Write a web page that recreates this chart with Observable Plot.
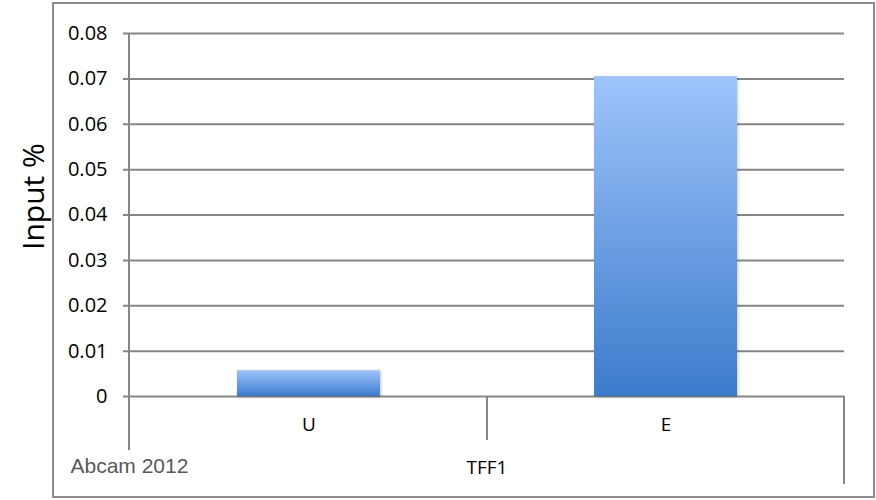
<!DOCTYPE html>
<html>
<head>
<meta charset="utf-8">
<script src="https://cdn.jsdelivr.net/npm/d3@7"></script>
<script src="https://cdn.jsdelivr.net/npm/@observablehq/plot@0.6"></script>
<style>
  html, body { margin: 0; padding: 0; background: #fff; }
  #wrap { position: relative; width: 876px; height: 500px; }
  #frame { position: absolute; left: 52px; top: 2px; width: 819px; height: 492px; border: 2px solid #8c8c8c; pointer-events: none; }
  #wrap svg { position: absolute; left: 0; top: 0; }
  g[aria-label="bar"] rect { filter: drop-shadow(1px 1px 1.5px rgba(0,0,0,0.22)); }
</style>
</head>
<body>
<div id="wrap"><div id="frame"></div></div>
<script>
const categories = ["U", "E"];
const values = [0.0057, 0.0705];
const yTicks = [0, 0.01, 0.02, 0.03, 0.04, 0.05, 0.06, 0.07, 0.08];
const groupLabel = "TFF1";
const yLabel = "Input %";
const credit = "Abcam 2012";

const data = categories.map((c, i) => ({category: c, value: values[i]}));

const ns = "http://www.w3.org/2000/svg";
function el(name, attrs) {
  const e = document.createElementNS(ns, name);
  for (const k in attrs) e.setAttribute(k, attrs[k]);
  return e;
}

const defs = () => {
  const d = el("defs", {});
  const g = el("linearGradient", {id: "barGrad", x1: 0, y1: 0, x2: 0, y2: 1});
  g.appendChild(el("stop", {offset: "0%", "stop-color": "#9ec4fb"}));
  g.appendChild(el("stop", {offset: "100%", "stop-color": "#3c7bcc"}));
  d.appendChild(g);
  return d;
};

const categoryLines = (index, scales, values, dims) => {
  const x = scales.x, y = scales.y;
  const bw = x.bandwidth();
  const left = dims.marginLeft;
  const right = dims.width - dims.marginRight;
  const mid = (x(categories[0]) + x(categories[1]) + bw) / 2;
  const base = y(0);
  const top = dims.marginTop;
  const g = el("g", {stroke: "#868686", "stroke-width": 2, fill: "none"});
  g.appendChild(el("line", {x1: left, x2: left, y1: top, y2: base + 54}));
  g.appendChild(el("line", {x1: mid, x2: mid, y1: base, y2: base + 44}));
  g.appendChild(el("line", {x1: right, x2: right, y1: base, y2: base + 88}));
  return g;
};

const chart = Plot.plot({
  width: 876,
  height: 500,
  marginLeft: 129,
  marginRight: 32,
  marginTop: 33,
  marginBottom: 104,
  style: {fontFamily: "'Open Sans', sans-serif", color: "#000", background: "transparent"},
  x: {domain: categories, paddingInner: 0.6, paddingOuter: 0.3, label: null},
  y: {domain: [0, 0.08], label: null},
  marks: [
    defs,
    Plot.ruleY(yTicks, {stroke: "#868686", strokeWidth: 2, strokeOpacity: 1, insetLeft: -6}),
    Plot.barY(data, {x: "category", y: "value", fill: "url(#barGrad)"}),
    categoryLines,
    Plot.axisY({ticks: yTicks, tickSize: 0, tickPadding: 22, tickFormat: d => String(d), fontSize: 20, label: null}),
    Plot.axisX({tickSize: 0, tickPadding: 21, fontSize: 19, label: null}),
    Plot.text([groupLabel], {frameAnchor: "bottom", dy: 77, fontSize: 19, fill: "#000"}),
    Plot.text([credit], {frameAnchor: "bottom-left", dx: -59, dy: 76, textAnchor: "start", fontSize: 21, fill: "#595959", fontFamily: "'Liberation Sans', Arial, sans-serif"}),
    Plot.text([yLabel], {frameAnchor: "left", dx: -86, dy: 35, rotate: -90, lineAnchor: "bottom", fontSize: 30, fill: "#000"})
  ]
});
document.getElementById("wrap").insertBefore(chart, document.getElementById("frame"));
</script>
</body>
</html>
